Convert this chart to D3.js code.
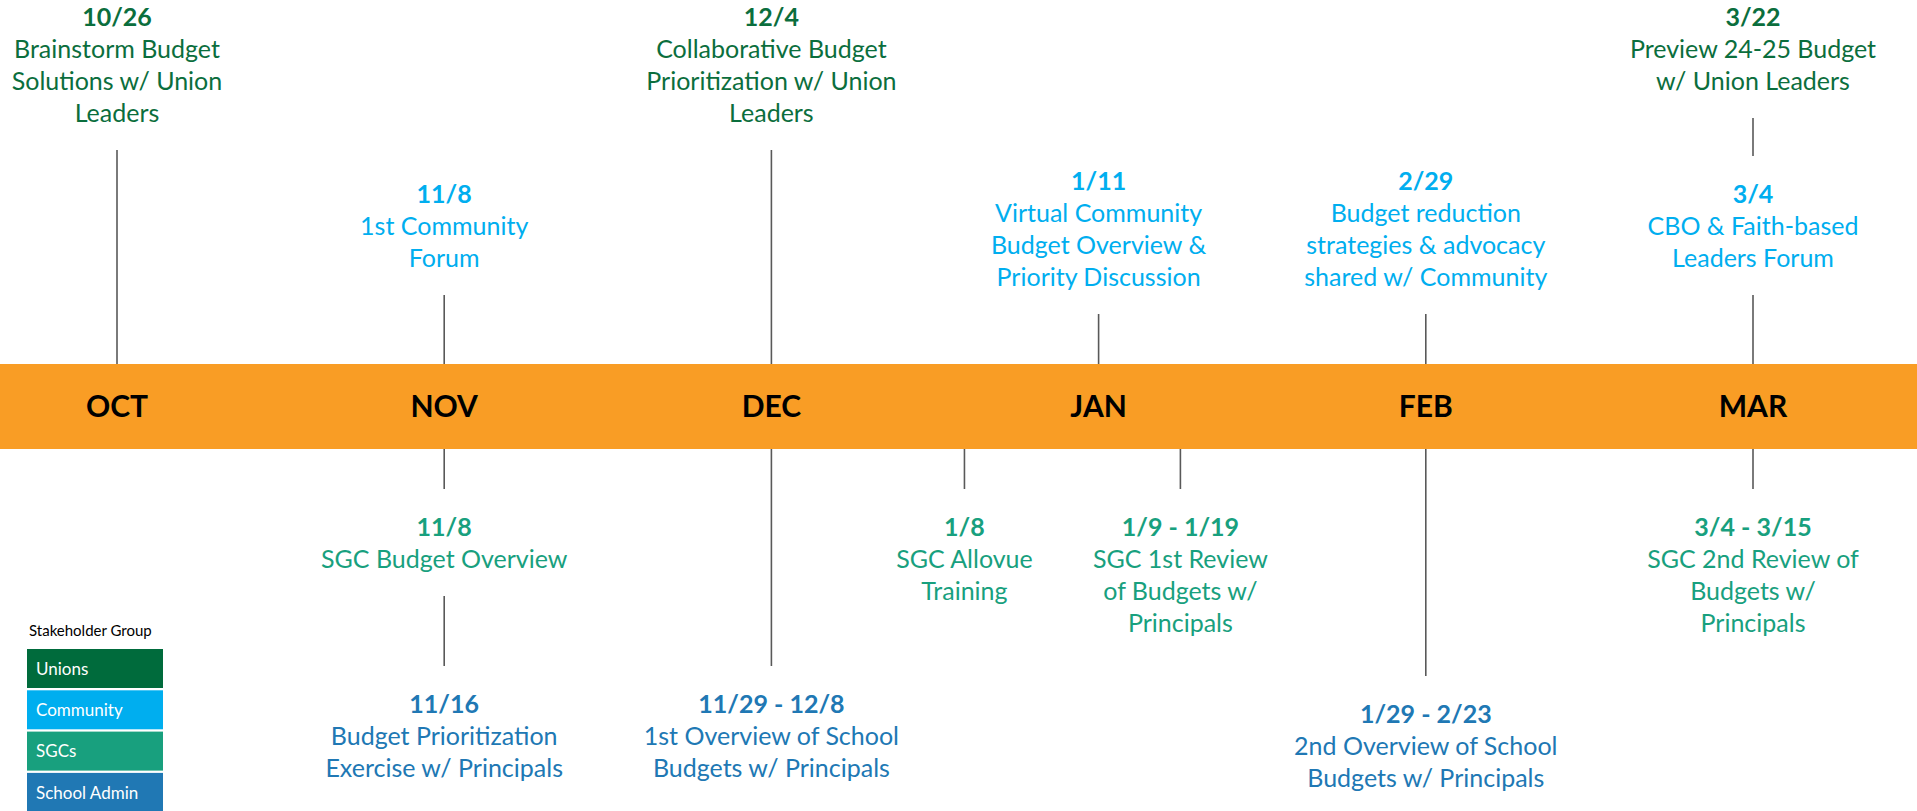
<!DOCTYPE html>
<html>
<head>
<meta charset="utf-8">
<script src="https://cdn.jsdelivr.net/npm/d3@7"></script>
<style>
  html, body { margin: 0; padding: 0; background: #fff; }
  svg { display: block; font-family: Lato, "Noto Sans", sans-serif; }
</style>
</head>
<body>
<svg id="chart" width="1917" height="811"></svg>
<script>
// months along the orange band
var months = ["OCT", "NOV", "DEC", "JAN", "FEB", "MAR"];

// stakeholder groups (legend)
var groups = ["Unions", "Community", "SGCs", "School Admin"];

// events: pos = place on the month axis (0 = OCT), tier = label row
var eventsAbove = [
  {date: "10/26", text: ["Brainstorm Budget", "Solutions w/ Union", "Leaders"], group: "Unions", pos: 0, tier: "a0"},
  {date: "11/8", text: ["1st Community", "Forum"], group: "Community", pos: 1, tier: "a2"},
  {date: "12/4", text: ["Collaborative Budget", "Prioritization w/ Union", "Leaders"], group: "Unions", pos: 2, tier: "a0"},
  {date: "1/11", text: ["Virtual Community", "Budget Overview &", "Priority Discussion"], group: "Community", pos: 3, tier: "a1"},
  {date: "2/29", text: ["Budget reduction", "strategies & advocacy", "shared w/ Community"], group: "Community", pos: 4, tier: "a1"},
  {date: "3/22", text: ["Preview 24-25 Budget", "w/ Union Leaders"], group: "Unions", pos: 5, tier: "a0"},
  {date: "3/4", text: ["CBO & Faith-based", "Leaders Forum"], group: "Community", pos: 5, tier: "a2"}
];

var eventsBelow = [
  {date: "11/8", text: ["SGC Budget Overview"], group: "SGCs", pos: 1, tier: "b0"},
  {date: "11/16", text: ["Budget Prioritization", "Exercise w/ Principals"], group: "School Admin", pos: 1, tier: "b1"},
  {date: "11/29 - 12/8", text: ["1st Overview of School", "Budgets w/ Principals"], group: "School Admin", pos: 2, tier: "b1"},
  {date: "1/8", text: ["SGC Allovue", "Training"], group: "SGCs", pos: 2.59, tier: "b0"},
  {date: "1/9 - 1/19", text: ["SGC 1st Review", "of Budgets w/", "Principals"], group: "SGCs", pos: 3.25, tier: "b0"},
  {date: "1/29 - 2/23", text: ["2nd Overview of School", "Budgets w/ Principals"], group: "School Admin", pos: 4, tier: "b2"},
  {date: "3/4 - 3/15", text: ["SGC 2nd Review of", "Budgets w/", "Principals"], group: "SGCs", pos: 5, tier: "b0"}
];

// ---- layout / style ----
var W = 1917, H = 811;
var bandTop = 364, bandBottom = 449;
var lineH = 32, gapAfter = 37, gapBefore = 38;
var tierY = {a0: 17, a1: 181, a2: 194, b0: 527, b1: 704, b2: 714};

var groupFill = {"Unions": "#006b3c", "Community": "#00aeef", "SGCs": "#18a07e", "School Admin": "#2078b4"};
var groupText = {"Unions": "#0b6e3d", "Community": "#00aeef", "SGCs": "#18a07e", "School Admin": "#2078b4"};

var svg = d3.select("#chart");

var x = d3.scaleLinear().domain([0, months.length - 1]).range([117, 1753]);

// band
svg.append("rect")
  .attr("x", 0).attr("y", bandTop)
  .attr("width", W).attr("height", bandBottom - bandTop)
  .attr("fill", "#f99d25");

svg.append("g").selectAll("text")
  .data(months)
  .enter().append("text")
  .attr("x", function(d, i) { return x(i); })
  .attr("y", (bandTop + bandBottom) / 2)
  .attr("dy", "0.36em")
  .attr("text-anchor", "middle")
  .attr("font-weight", 700)
  .attr("font-size", 30)
  .attr("fill", "#000")
  .text(function(d) { return d; });

function lastY(d) { return tierY[d.tier] + d.text.length * lineH; }

// connectors
var connectors = [];
eventsAbove.forEach(function(d) {
  var y1 = lastY(d) + gapAfter, y2 = bandTop;
  eventsAbove.forEach(function(o) {
    if (o !== d && o.pos === d.pos && tierY[o.tier] > tierY[d.tier]) y2 = Math.min(y2, tierY[o.tier] - gapBefore);
  });
  connectors.push({pos: d.pos, y1: y1, y2: y2});
});
eventsBelow.forEach(function(d) {
  var y1 = bandBottom, y2 = tierY[d.tier] - gapBefore;
  eventsBelow.forEach(function(o) {
    if (o !== d && o.pos === d.pos && tierY[o.tier] < tierY[d.tier]) y1 = Math.max(y1, lastY(o) + gapAfter);
  });
  connectors.push({pos: d.pos, y1: y1, y2: y2});
});

svg.append("g").selectAll("line")
  .data(connectors)
  .enter().append("line")
  .attr("x1", function(d) { return x(d.pos); })
  .attr("x2", function(d) { return x(d.pos); })
  .attr("y1", function(d) { return d.y1; })
  .attr("y2", function(d) { return d.y2; })
  .attr("stroke", "#595959")
  .attr("stroke-width", 1.6);

// labels
var labels = svg.append("g").selectAll("text")
  .data(eventsAbove.concat(eventsBelow))
  .enter().append("text")
  .attr("text-anchor", "middle")
  .attr("font-size", 25)
  .attr("fill", function(d) { return groupText[d.group]; });

labels.each(function(d) {
  var t = d3.select(this);
  var rows = [d.date].concat(d.text);
  rows.forEach(function(r, i) {
    t.append("tspan")
      .attr("x", x(d.pos))
      .attr("y", tierY[d.tier] + i * lineH)
      .attr("dy", "0.36em")
      .attr("font-weight", i === 0 ? 700 : 400)
      .text(r);
  });
});

// legend
var legend = svg.append("g");
legend.append("text")
  .attr("x", 29).attr("y", 631)
  .attr("dy", "0.36em")
  .attr("font-size", 15)
  .attr("fill", "#000")
  .text("Stakeholder Group");

var lg = legend.selectAll("g.item")
  .data(groups)
  .enter().append("g")
  .attr("class", "item")
  .attr("transform", function(d, i) { return "translate(27," + (649 + i * 41.3) + ")"; });

lg.append("rect")
  .attr("width", 136).attr("height", 39)
  .attr("fill", function(d) { return groupFill[d]; });

lg.append("text")
  .attr("x", 9).attr("y", 19.5)
  .attr("dy", "0.36em")
  .attr("font-size", 17)
  .attr("fill", "#fff")
  .text(function(d) { return d; });
</script>
</body>
</html>
